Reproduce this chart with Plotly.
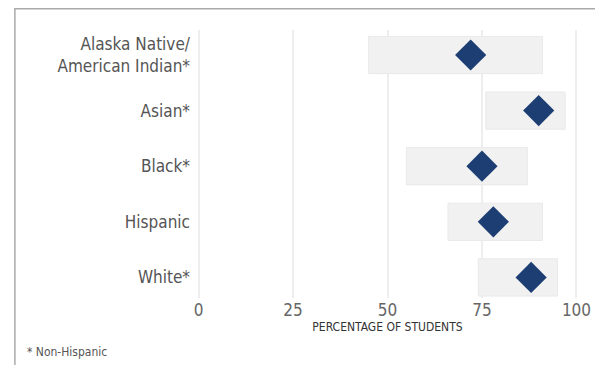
import plotly.graph_objects as go

# data
groups = ["Alaska Native/<br>American Indian*", "Asian*", "Black*", "Hispanic", "White*"]
range_low = [45, 76, 55, 66, 74]
range_high = [91, 97, 87, 91, 95]
point_values = [72, 90, 75, 78, 88]
tick_vals = [0, 25, 50, 75, 100]

LABEL_FONT = "Liberation Sans Narrow, DejaVu Sans Condensed, Roboto, sans-serif"

fig = go.Figure()

# light grey range bars
fig.add_trace(go.Bar(
    y=groups,
    x=[h - l for l, h in zip(range_low, range_high)],
    base=range_low,
    orientation="h",
    width=0.67,
    marker=dict(color="#f1f1f1", line=dict(color="#e9e9e9", width=1)),
    hoverinfo="skip",
    showlegend=False,
))

# diamond markers
fig.add_trace(go.Scatter(
    y=groups,
    x=point_values,
    mode="markers",
    marker=dict(symbol="diamond", size=24, color="#1d3e73"),
    showlegend=False,
))

# page body has an 8px margin, so the figure is 8px smaller than the window
fig.update_layout(
    width=595,
    height=357,
    margin=dict(l=189, r=25, t=22, b=67),
    paper_bgcolor="white",
    plot_bgcolor="white",
    xaxis=dict(
        range=[-0.4, 100.4],
        tickvals=tick_vals,
        ticktext=[str(v) for v in tick_vals],
        showgrid=True,
        gridcolor="#eeeeee",
        gridwidth=1.5,
        zeroline=False,
        showline=False,
        ticks="",
        tickfont=dict(family=LABEL_FONT, size=17, color="#666666"),
        title=dict(text="PERCENTAGE OF STUDENTS", standoff=2,
                   font=dict(family=LABEL_FONT, size=12, color="#333333")),
    ),
    yaxis=dict(
        range=[4.37, -0.45],
        showgrid=False,
        zeroline=False,
        showline=False,
        ticks="",
        ticklabelstandoff=6,
        tickfont=dict(family=LABEL_FONT, size=17, color="#555555"),
    ),
    shapes=[dict(
        type="rect", xref="paper", yref="paper",
        x0=-0.478, x1=1.060, y0=-0.3, y1=1.079,
        line=dict(color="#aaaaaa", width=1.5),
        layer="below",
    )],
    annotations=[dict(
        text="* Non-Hispanic", xref="paper", yref="paper",
        x=-0.451, y=-0.2, xanchor="left", yanchor="middle", showarrow=False,
        font=dict(family=LABEL_FONT, size=12, color="#555555"),
    )],
)

fig.write_html("out.html")
